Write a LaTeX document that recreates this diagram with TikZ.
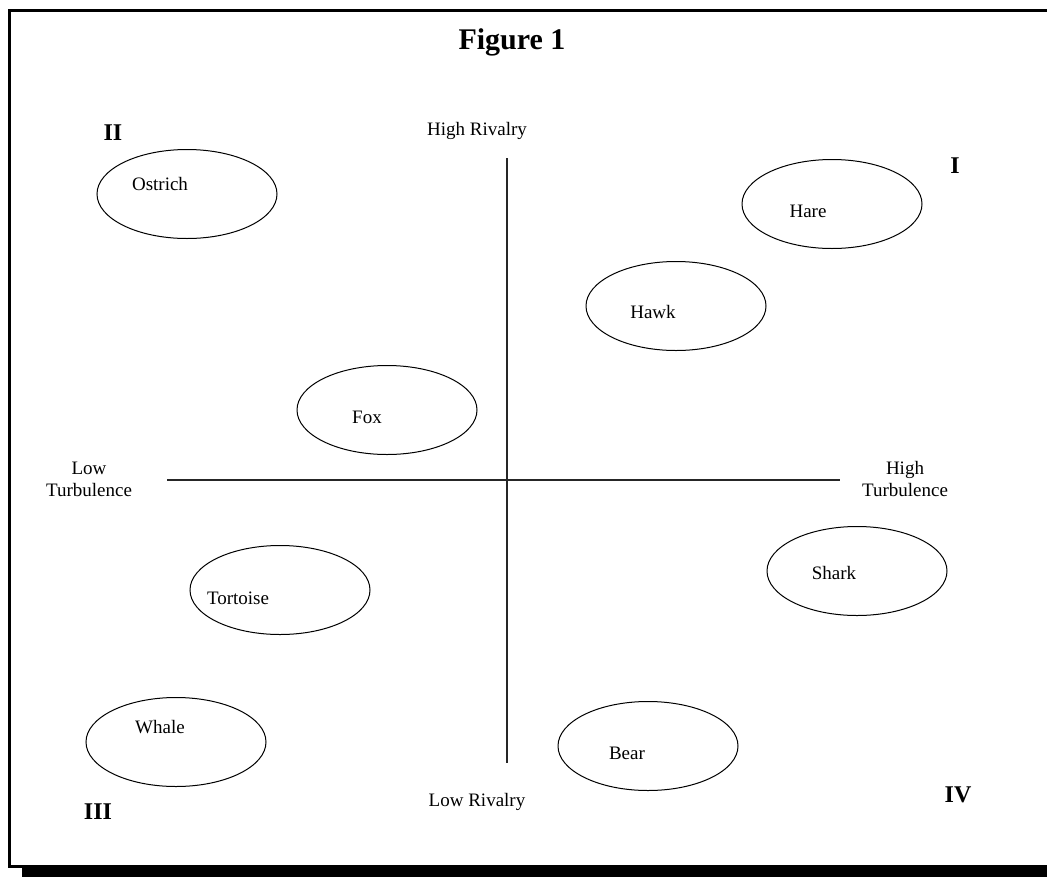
\documentclass[tikz,border=0pt]{standalone}
\usepackage{fontspec}
\setmainfont{Liberation Serif}
\usetikzlibrary{shapes.geometric}
\begin{document}
\begin{tikzpicture}[x=1pt,y=-1pt,
  animal/.style={draw=black,line width=1pt,ellipse,minimum width=180pt,minimum height=89pt,inner sep=0pt},
  lbl/.style={inner sep=0pt,font=\fontsize{19}{22}\selectfont},
  axlbl/.style={inner sep=0pt,align=center,font=\fontsize{19}{22}\selectfont},
  quad/.style={inner sep=0pt,font=\fontsize{24}{26}\selectfont\bfseries},
  axis/.style={draw=black!85,line width=1.2pt}]
\useasboundingbox (0,0) rectangle (1047,876);
% frame with shadow
\fill[black] (22,867) rectangle (1060,880);
\draw[line width=3pt] (1060,10.5) -- (9.5,10.5) -- (9.5,866.5) -- (1060,866.5);
% title
\node[inner sep=0pt,font=\fontsize{30}{32}\selectfont\bfseries] (title) at (512,42) {Figure 1};
% axes
\coordinate (top) at (507,158);
\coordinate (bot) at (507,763);
\coordinate (lft) at (167,480);
\coordinate (rgt) at (840,480);
\draw[axis] (top) -- (bot);
\draw[axis] (lft) -- (rgt);
% axis labels
\node[axlbl] (hr) at (477,131) {High Rivalry};
\node[axlbl] (lr) at (477,802) {Low Rivalry};
\node[axlbl] (lt) at (89,479) {Low\\Turbulence};
\node[axlbl] (ht) at (905,479) {High\\Turbulence};
% quadrant numerals
\node[quad] (q1) at (955,166) {I};
\node[quad] (q2) at (113,133) {II};
\node[quad] (q3) at (98,812) {III};
\node[quad] (q4) at (958,795) {IV};
% animals
\node[animal] (ostrich) at (187,194) {};
\node[lbl] (ostricht) at (160,184) {Ostrich};
\node[animal] (hare) at (832,204) {};
\node[lbl] (haret) at (808,211) {Hare};
\node[animal] (hawk) at (676,306) {};
\node[lbl] (hawkt) at (653,312) {Hawk};
\node[animal] (fox) at (387,410) {};
\node[lbl] (foxt) at (367,417) {Fox};
\node[animal] (tortoise) at (280,590) {};
\node[lbl] (tortoiset) at (238,598) {Tortoise};
\node[animal] (shark) at (857,571) {};
\node[lbl] (sharkt) at (834,573) {Shark};
\node[animal] (whale) at (176,742) {};
\node[lbl] (whalet) at (160,727) {Whale};
\node[animal] (bear) at (648,746) {};
\node[lbl] (beart) at (627,753) {Bear};
\end{tikzpicture}
\end{document}
